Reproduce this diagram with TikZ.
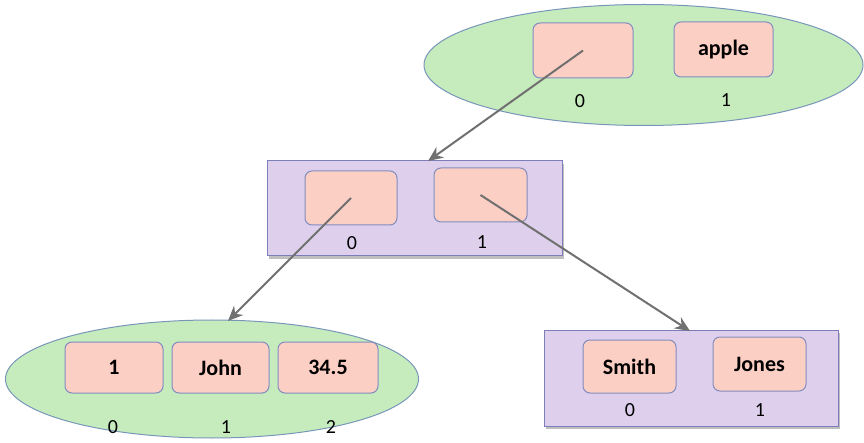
\documentclass[tikz,border=0pt]{standalone}
\usepackage{fontspec}
\setmainfont{Carlito}
\usetikzlibrary{shapes.geometric,arrows.meta,shadows}
\definecolor{ellfill}{RGB}{198,236,190}
\definecolor{ellline}{RGB}{120,150,185}
\definecolor{recfill}{RGB}{222,208,236}
\definecolor{recline}{RGB}{125,125,185}
\definecolor{boxfill}{RGB}{252,207,196}
\definecolor{boxline}{RGB}{130,140,190}
\definecolor{arr}{RGB}{112,112,112}
\tikzset{
  ell/.style={ellipse, draw=ellline, fill=ellfill, line width=1pt, inner sep=0pt},
  rec/.style={rectangle, draw=recline, fill=recfill, line width=1pt, inner sep=0pt,
    drop shadow={shadow xshift=2pt, shadow yshift=-3pt, fill=black, opacity=0.25}},
  cell/.style={rectangle, rounded corners=7pt, draw=boxline, fill=boxfill, line width=1pt,
    inner sep=0pt, font=\fontsize{22}{24}\selectfont\bfseries},
  idx/.style={inner sep=0pt, font=\fontsize{20}{22}\selectfont},
  link/.style={draw=arr, line width=2pt, -{Stealth[length=15pt,width=13pt]}}
}
\begin{document}
\begin{tikzpicture}[x=1pt,y=-1pt]
\useasboundingbox (0,0) rectangle (864,443);
% top ellipse
\node[ell, minimum width=439pt, minimum height=121pt] (E1) at (643.5,65) {};
\node[cell, minimum width=100pt, minimum height=55pt] (t0) at (583,50.5) {};
\node[cell, minimum width=99pt, minimum height=55pt] (t1) at (723.5,49.5) {apple};
\node[idx] (t0i) at (580,101) {0};
\node[idx] (t1i) at (726,100) {1};
% middle rectangle
\node[rec, minimum width=295pt, minimum height=95pt] (R1) at (414.5,208.5) {};
\node[cell, minimum width=92pt, minimum height=54pt] (m0) at (351,198) {};
\node[cell, minimum width=93pt, minimum height=54pt] (m1) at (480.5,195) {};
\node[idx] (m0i) at (352,243) {0};
\node[idx] (m1i) at (482,242) {1};
% bottom-left ellipse
\node[ell, minimum width=413pt, minimum height=118pt] (E2) at (212,379) {};
\node[cell, minimum width=98pt, minimum height=51pt] (b0) at (114,367.5) {1};
\node[cell, minimum width=97pt, minimum height=51pt] (b1) at (220.5,367.5) {John};
\node[cell, minimum width=100pt, minimum height=51pt] (b2) at (328,367.5) {34.5};
\node[idx] (b0i) at (113,427) {0};
\node[idx] (b1i) at (226,427) {1};
\node[idx] (b2i) at (331,427) {2};
% bottom-right rectangle
\node[rec, minimum width=294pt, minimum height=96pt] (R2) at (691,378) {};
\node[cell, minimum width=93pt, minimum height=53pt] (s0) at (629.5,366.5) {Smith};
\node[cell, minimum width=93pt, minimum height=54pt] (s1) at (759.5,364) {Jones};
\node[idx] (s0i) at (630,410) {0};
\node[idx] (s1i) at (760,410) {1};
% connectors
\coordinate (a1) at (428,161);
\coordinate (a2) at (228,321);
\coordinate (a3) at (690,331);
\draw[link] (t0.center) -- (a1);
\draw[link] (m0.center) -- (a2);
\draw[link] (m1.center) -- (a3);
\end{tikzpicture}
\end{document}
